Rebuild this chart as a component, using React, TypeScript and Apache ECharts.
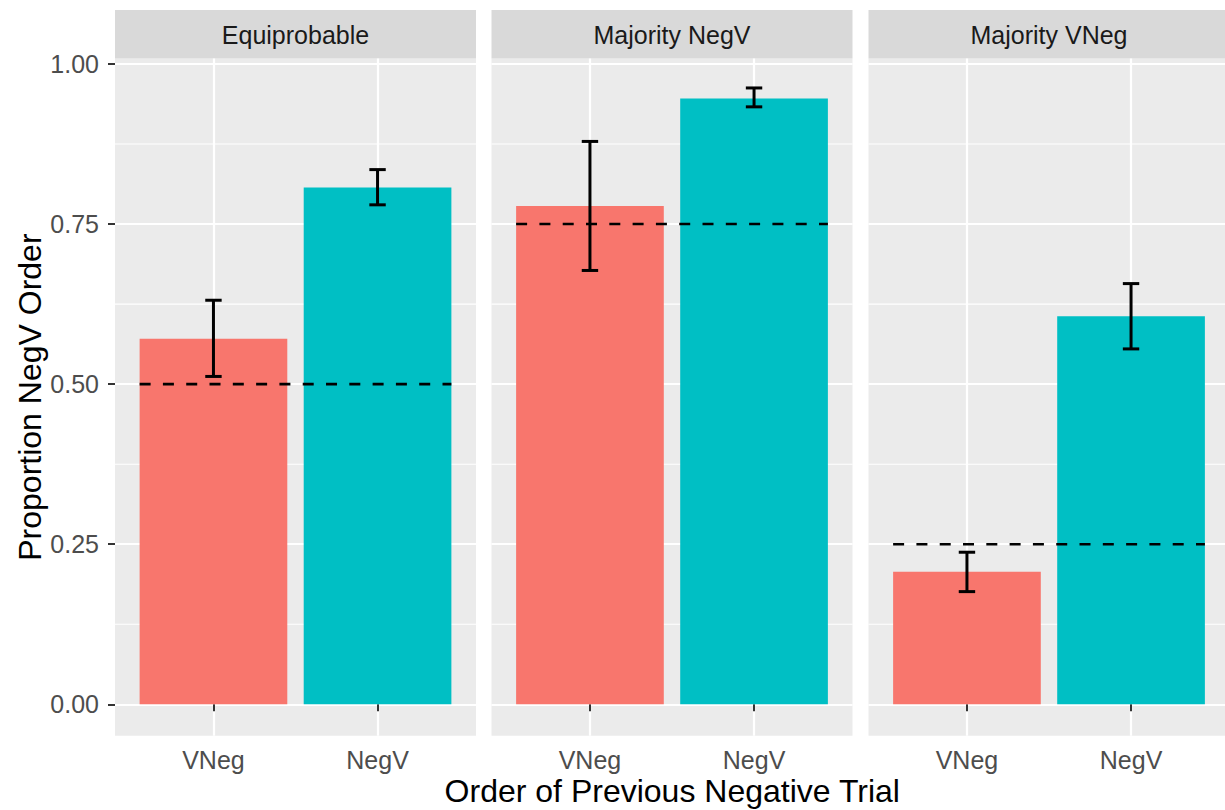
import React, { useEffect, useRef } from "react";
import * as echarts from "echarts";

// Facets, x categories and the values for each bar
const facets = ["Equiprobable", "Majority NegV", "Majority VNeg"];
const orders = ["VNeg", "NegV"];
const proportionVNeg = [0.571, 0.778, 0.207];
const proportionNegV = [0.807, 0.946, 0.606];
const lowerVNeg = [0.512, 0.6775, 0.176];
const upperVNeg = [0.631, 0.879, 0.2375];
const lowerNegV = [0.78, 0.933, 0.555];
const upperNegV = [0.835, 0.9625, 0.657];
const chanceLevel = [0.5, 0.75, 0.25];
const yTicks = [0, 0.25, 0.5, 0.75, 1];
const yMinorTicks = [0.125, 0.375, 0.625, 0.875];
const fillColors = ["#F8766D", "#00BFC4"];

// Layout (the drawing is a little wider than the window; the last panel runs off the right edge)
const canvasWidth = 1232;
const canvasHeight = 810;
const panelLeft = [115, 491.5, 868.5];
const panelWidth = 361;
const panelTop = 58.5;
const panelHeight = 677.2;
const stripTop = 10;
const xMin = 0.4;
const xMax = 2.6;
const yMin = -0.049;
const yMax = 1.0085;
const barHalf = 0.45;
const capHalf = 0.05;

const FONT = "'Liberation Sans', Arial, Helvetica, sans-serif";

export default function App() {
  const ref = useRef<HTMLDivElement>(null);

  useEffect(() => {
    document.body.style.margin = "0";
    document.body.style.overflow = "hidden";
    if (!ref.current) return;
    const chart = echarts.init(ref.current, null, { renderer: "svg" });

    const grids = panelLeft.map((left) => ({
      left,
      top: panelTop,
      width: panelWidth,
      height: panelHeight,
      show: true,
      backgroundColor: "#EBEBEB",
      borderWidth: 0,
      containLabel: false,
    }));

    const xAxes = facets.map((_, i) => ({
      type: "value",
      gridIndex: i,
      min: xMin,
      max: xMax,
      axisLine: { show: false },
      axisTick: {
        show: true,
        customValues: [1, 2],
        length: 7,
        lineStyle: { color: "#333333", width: 2 },
      },
      axisLabel: {
        show: true,
        customValues: [1, 2],
        formatter: (v: number) => orders[Math.round(v) - 1] ?? "",
        color: "#4D4D4D",
        fontSize: 25,
        fontFamily: FONT,
        margin: 12,
      },
      splitLine: { show: true, lineStyle: { color: "#FFFFFF", width: 2.2 } },
    }));

    const yAxes = facets.map((_, i) => ({
      type: "value",
      gridIndex: i,
      min: yMin,
      max: yMax,
      axisLine: { show: false },
      axisTick: {
        show: i === 0,
        customValues: yTicks,
        length: 7,
        lineStyle: { color: "#333333", width: 2 },
      },
      axisLabel: {
        show: i === 0,
        customValues: yTicks,
        formatter: (v: number) => v.toFixed(2),
        color: "#4D4D4D",
        fontSize: 25,
        fontFamily: FONT,
        margin: 16,
      },
      splitLine: { show: true, lineStyle: { color: "#FFFFFF", width: 2.2 } },
    }));

    const series: any[] = [];
    facets.forEach((_, i) => {
      // minor horizontal grid lines
      series.push({
        type: "custom",
        xAxisIndex: i,
        yAxisIndex: i,
        z: 1,
        silent: true,
        data: yMinorTicks.map((v) => [1, v]),
        renderItem: (_p: any, api: any) => {
          const v = api.value(1);
          const a = api.coord([xMin, v]);
          const b = api.coord([xMax, v]);
          return {
            type: "line",
            shape: { x1: a[0], y1: a[1], x2: b[0], y2: b[1] },
            style: { stroke: "#FFFFFF", lineWidth: 1.1 },
          };
        },
      });

      // bars with error bars
      series.push({
        type: "custom",
        xAxisIndex: i,
        yAxisIndex: i,
        z: 2,
        data: [
          [1, proportionVNeg[i], lowerVNeg[i], upperVNeg[i]],
          [2, proportionNegV[i], lowerNegV[i], upperNegV[i]],
        ],
        renderItem: (params: any, api: any) => {
          const x = api.value(0);
          const v = api.value(1);
          const lo = api.value(2);
          const hi = api.value(3);
          const tl = api.coord([x - barHalf, v]);
          const br = api.coord([x + barHalf, 0]);
          const top = api.coord([x, hi]);
          const bot = api.coord([x, lo]);
          const capL = api.coord([x - capHalf, hi]);
          const capR = api.coord([x + capHalf, lo]);
          const err = { stroke: "#000000", lineWidth: 3 };
          return {
            type: "group",
            children: [
              {
                type: "rect",
                shape: { x: tl[0], y: tl[1], width: br[0] - tl[0], height: br[1] - tl[1] },
                style: { fill: fillColors[params.dataIndex] },
              },
              {
                type: "line",
                shape: { x1: top[0], y1: top[1], x2: bot[0], y2: bot[1] },
                style: err,
                z2: 5,
              },
              {
                type: "line",
                shape: { x1: capL[0], y1: top[1], x2: capR[0], y2: top[1] },
                style: err,
                z2: 5,
              },
              {
                type: "line",
                shape: { x1: capL[0], y1: bot[1], x2: capR[0], y2: bot[1] },
                style: err,
                z2: 5,
              },
            ],
          };
        },
      });

      // dashed reference line across both bars
      series.push({
        type: "custom",
        xAxisIndex: i,
        yAxisIndex: i,
        z: 3,
        silent: true,
        data: [[1 - barHalf, 2 + barHalf, chanceLevel[i]]],
        renderItem: (_p: any, api: any) => {
          const a = api.coord([api.value(0), api.value(2)]);
          const b = api.coord([api.value(1), api.value(2)]);
          return {
            type: "line",
            shape: { x1: a[0], y1: a[1], x2: b[0], y2: b[1] },
            style: { stroke: "#000000", lineWidth: 2.6, lineDash: [11, 12.3] },
          };
        },
      });
    });

    const graphic: any[] = [];
    facets.forEach((name, i) => {
      graphic.push({
        type: "rect",
        left: panelLeft[i],
        top: stripTop,
        shape: { x: 0, y: 0, width: panelWidth, height: panelTop - stripTop },
        style: { fill: "#D9D9D9" },
        silent: true,
      });
      graphic.push({
        type: "text",
        x: panelLeft[i] + panelWidth / 2,
        y: (stripTop + panelTop) / 2 + 0.5,
        style: {
          text: name,
          fill: "#1A1A1A",
          fontSize: 25,
          fontFamily: FONT,
          align: "center",
          verticalAlign: "middle",
        },
        silent: true,
      });
    });
    graphic.push({
      type: "text",
      x: (panelLeft[0] + panelLeft[2] + panelWidth) / 2,
      y: 791,
      style: {
        text: "Order of Previous Negative Trial",
        fill: "#000000",
        fontSize: 32,
        fontFamily: FONT,
        align: "center",
        verticalAlign: "middle",
      },
      silent: true,
    });
    graphic.push({
      type: "text",
      x: 30,
      y: panelTop + panelHeight / 2,
      rotation: Math.PI / 2,
      style: {
        text: "Proportion NegV Order",
        fill: "#000000",
        fontSize: 32,
        fontFamily: FONT,
        align: "center",
        verticalAlign: "middle",
      },
      silent: true,
    });

    chart.setOption({
      animation: false,
      backgroundColor: "#FFFFFF",
      grid: grids,
      xAxis: xAxes,
      yAxis: yAxes,
      series,
      graphic,
    });

    return () => chart.dispose();
  }, []);

  return <div ref={ref} style={{ width: canvasWidth, height: canvasHeight }} />;
}
